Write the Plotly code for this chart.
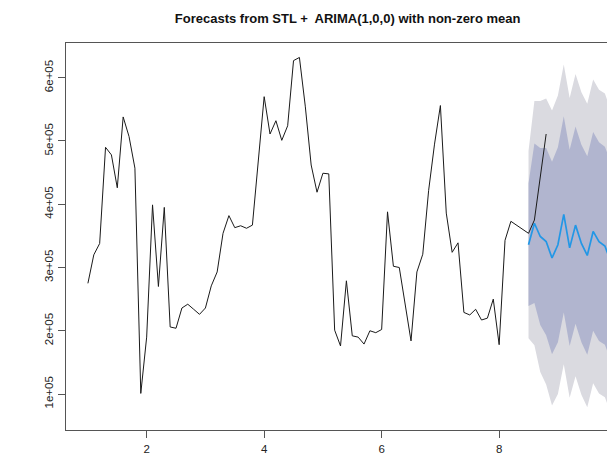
import plotly.graph_objects as go

# Observed series (thousands), frequency 10, starting at t = 1.0
series_start = 1.0
series_k = [275, 320, 338, 490, 478, 426, 538, 507, 457, 101,
            190, 399, 270, 395, 206, 204, 236, 242, 234, 226,
            236, 271, 293, 354, 382, 363, 366, 362, 367, 468,
            570, 511, 532, 501, 524, 627, 632, 555, 462, 419,
            449, 448, 201, 176, 279, 192, 190, 179, 200, 197,
            202, 388, 302, 300, 243, 184, 293, 321, 422, 495,
            556, 386, 324, 339, 229, 225, 234, 217, 220, 250,
            178, 343, 373, 367, 360, 354, 375, 443, 511]

# Forecast (thousands), starting at t = 8.5
fc_start = 8.5
fc_mean = [336, 370, 349, 341, 315, 336, 384, 331, 367, 338, 319, 357, 341, 334, 309]
fc_hi80 = [433, 496, 489, 489, 467, 490, 539, 486, 523, 494, 476, 514, 498, 491, 466]
fc_lo80 = [239, 244, 209, 193, 163, 182, 229, 176, 211, 182, 162, 200, 184, 178, 152]
fc_hi95 = [484, 563, 563, 567, 548, 572, 621, 568, 606, 577, 559, 597, 581, 575, 549]
fc_lo95 = [188, 177, 135, 115, 82, 100, 147, 94, 128, 99, 79, 117, 101, 95, 69]

y_ticks = [100000, 200000, 300000, 400000, 500000, 600000]
y_tick_labels = ["1e+05", "2e+05", "3e+05", "4e+05", "5e+05", "6e+05"]
x_ticks = [2, 4, 6, 8]
x_tick_labels = ["2", "4", "6", "8"]

title_text = "Forecasts from STL +\u00a0 ARIMA(1,0,0) with non-zero mean"

t_series = [round(series_start + i / 10, 1) for i in range(len(series_k))]
t_fc = [round(fc_start + i / 10, 1) for i in range(len(fc_mean))]
K = 1000

fig = go.Figure()
fig.add_trace(go.Scatter(
    x=t_fc + t_fc[::-1],
    y=[v * K for v in fc_hi95] + [v * K for v in fc_lo95[::-1]],
    fill="toself", fillcolor="#DADAE0", line=dict(width=0),
    mode="lines", hoverinfo="skip", showlegend=False))
fig.add_trace(go.Scatter(
    x=t_fc + t_fc[::-1],
    y=[v * K for v in fc_hi80] + [v * K for v in fc_lo80[::-1]],
    fill="toself", fillcolor="#B1B5CF", line=dict(width=0),
    mode="lines", hoverinfo="skip", showlegend=False))
fig.add_trace(go.Scatter(
    x=t_fc, y=[v * K for v in fc_mean], mode="lines",
    line=dict(color="#2297E6", width=1.7), showlegend=False))
fig.add_trace(go.Scatter(
    x=t_series, y=[v * K for v in series_k], mode="lines",
    line=dict(color="#1a1a1a", width=1), showlegend=False))

axis_font = dict(family="Liberation Sans, Arial, sans-serif", size=11.5, color="#222")

# The page body has an 8px default margin, so the figure is 8px smaller
# than the window and every offset is measured from (8, 8).
fig.update_layout(
    width=607, height=447,
    margin=dict(l=58, r=0, t=35, b=25),
    paper_bgcolor="white", plot_bgcolor="white",
    title=dict(text=title_text, xref="paper", x=0.513, xanchor="center",
               yref="container", y=0.9765, yanchor="middle",
               font=dict(family="Liberation Sans, Arial, sans-serif", size=13,
                         color="#111", weight="bold")),
    xaxis=dict(range=[0.627, 9.972], tickvals=x_ticks, ticktext=x_tick_labels,
               showgrid=False, zeroline=False, showline=True, mirror=True,
               linecolor="#555", linewidth=1, ticks="outside", ticklen=7,
               tickcolor="#555", tickfont=axis_font, ticklabelstandoff=1,
               automargin=False),
    yaxis=dict(range=[43180, 654840], tickvals=y_ticks, ticktext=y_tick_labels,
               showgrid=False, zeroline=False, showline=True, mirror=False,
               linecolor="#555", linewidth=1, ticks="outside", ticklen=7,
               tickcolor="#555", tickfont=axis_font, tickangle=-90,
               automargin=False),
    annotations=[dict(text="10", xref="paper", x=(616.7 - 66) / 549, xanchor="center",
                      yref="paper", y=-0.02, yanchor="top", showarrow=False,
                      font=axis_font)],
)

fig.write_html("out.html")
